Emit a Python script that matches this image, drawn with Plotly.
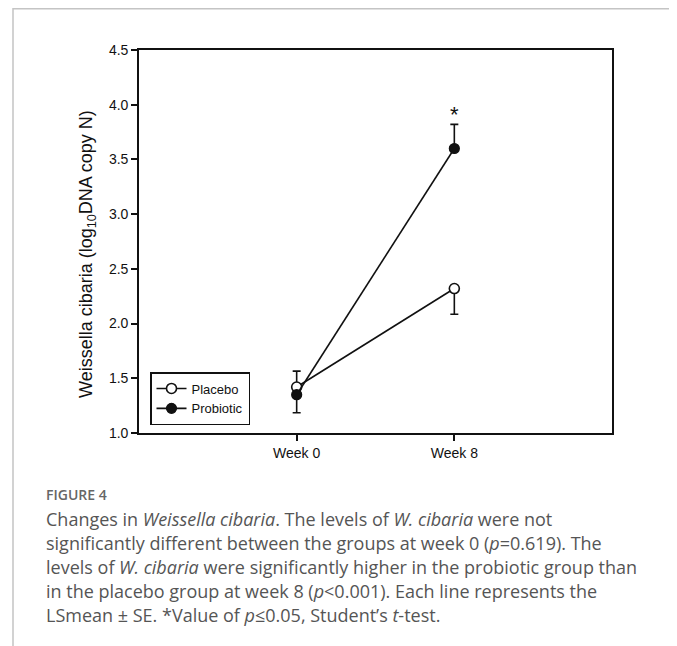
import plotly.graph_objects as go

# ---- data ----
weeks = [0, 8]
week_labels = ["Week 0", "Week 8"]
placebo_mean = [1.42, 2.32]
placebo_err_up = [0.145, 0.0]
placebo_err_down = [0.0, 0.235]
probiotic_mean = [1.35, 3.60]
probiotic_err_up = [0.0, 0.22]
probiotic_err_down = [0.165, 0.0]
y_ticks = [1.0, 1.5, 2.0, 2.5, 3.0, 3.5, 4.0, 4.5]

# ---- layout geometry (screen pixels; page body has an 8px margin) ----
OFF = 8
W, H = 677 - OFF, 646 - OFF
L, R, T, B = 139 - OFF, 612 - OFF, 50 - OFF, 433 - OFF
pw, ph = R - L, B - T


def px(X):
    return (X - OFF - L) / pw


def py(Y):
    return (B - (Y - OFF)) / ph


fig = go.Figure()

fig.add_trace(go.Scatter(
    x=weeks, y=placebo_mean, name="Placebo", mode="lines+markers",
    line=dict(color="#111111", width=1.6),
    marker=dict(symbol="circle", size=10, color="white",
                line=dict(color="#111111", width=1.6)),
    error_y=dict(type="data", symmetric=False, array=placebo_err_up,
                 arrayminus=placebo_err_down, color="#111111",
                 thickness=1.6, width=4),
))
fig.add_trace(go.Scatter(
    x=weeks, y=probiotic_mean, name="Probiotic", mode="lines+markers",
    line=dict(color="#111111", width=1.6),
    marker=dict(symbol="circle", size=10, color="#111111",
                line=dict(color="#111111", width=1.2)),
    error_y=dict(type="data", symmetric=False, array=probiotic_err_up,
                 arrayminus=probiotic_err_down, color="#111111",
                 thickness=1.6, width=4),
))

# significance asterisk above probiotic week 8 bar
fig.add_annotation(x=weeks[1], y=probiotic_mean[1] + probiotic_err_up[1],
                   text="*", showarrow=False, yanchor="bottom", yshift=-5,
                   font=dict(family="Arial", size=22, color="#111111"))

# y-axis title (rotated text)
fig.add_annotation(x=px(87), y=py(254), xref="paper", yref="paper",
                   text="Weissella cibaria (log<sub>10</sub>DNA copy N)",
                   textangle=-90, showarrow=False, xanchor="center",
                   yanchor="middle",
                   font=dict(family="Arial", size=18, color="#111111"))

# caption
cap_font = dict(family="Open Sans", size=18, color="#555555")
fig.add_annotation(x=px(46), y=py(494), xref="paper", yref="paper",
                   text="FIGURE 4", showarrow=False, xanchor="left",
                   yanchor="middle", xshift=-2,
                   font=dict(family="Open Sans", size=14, color="#666666",
                             weight=600))
caption_lines = [
    "Changes in <i>Weissella cibaria</i>. The levels of <i>W. cibaria</i> were not",
    "significantly different between the groups at week 0 (<i>p</i>=0.619). The",
    "levels of <i>W. cibaria</i> were significantly higher in the probiotic group than",
    "in the placebo group at week 8 (<i>p</i>&lt;0.001). Each line represents the",
    "LSmean ± SE. *Value of <i>p</i>≤0.05, Student\u2019s <i>t</i>-test.",
]
line_y = [519, 543, 567, 591, 615]
for txt, yy in zip(caption_lines, line_y):
    fig.add_annotation(x=px(46), y=py(yy), xref="paper", yref="paper",
                       text=txt, showarrow=False, xanchor="left",
                       yanchor="middle", xshift=-2, font=cap_font)

# outer gray frame (open at bottom)
fig.add_shape(type="path", xref="paper", yref="paper",
              path=(f"M {px(13)} {py(646)} L {px(13)} {py(8.8)} "
                    f"L {px(673)} {py(8.8)} L {px(673)} {py(646)}"),
              line=dict(color="#c4c4c4", width=1.5))

fig.update_layout(
    width=W, height=H,
    margin=dict(l=L, r=W - R, t=T, b=H - B, pad=0),
    paper_bgcolor="white", plot_bgcolor="white",
    font=dict(family="Arial", color="#111111"),
    showlegend=True,
    legend=dict(x=px(150), y=py(372), xanchor="left", yanchor="top",
                bgcolor="white", bordercolor="#111111", borderwidth=1.5,
                font=dict(family="Arial", size=13, color="#111111"),
                tracegroupgap=0, itemwidth=30),
    xaxis=dict(range=[-8, 16], tickvals=weeks, ticktext=week_labels,
               showgrid=False, zeroline=False, showline=True,
               linecolor="#111111", linewidth=1.6, mirror=True,
               ticks="outside", ticklen=6, tickwidth=1.5, tickcolor="#111111",
               tickfont=dict(family="Arial", size=14, color="#111111")),
    yaxis=dict(range=[1.0, 4.5], tickvals=y_ticks, tickformat=".1f",
               showgrid=False, zeroline=False, showline=True,
               linecolor="#111111", linewidth=1.6, mirror=True,
               ticks="outside", ticklen=6, tickwidth=1.5, tickcolor="#111111",
               tickfont=dict(family="Arial", size=14, color="#111111")),
)

fig.write_html("out.html")
